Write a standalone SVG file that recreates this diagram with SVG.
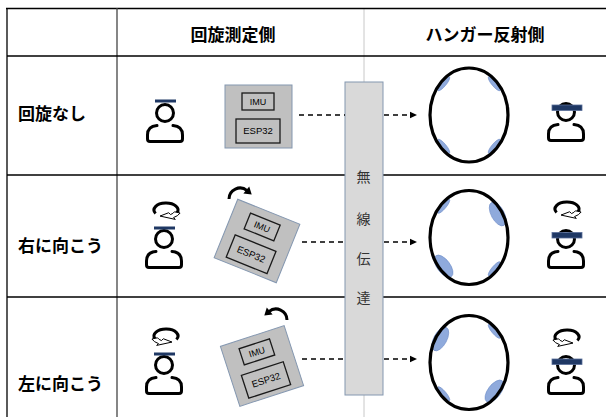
<svg xmlns="http://www.w3.org/2000/svg" width="606" height="417" viewBox="0 0 606 417">
  <style>
    .grid { stroke: #000; stroke-width: 1.3; fill: none; }
    .hdr { font-family: "Noto Sans CJK JP", sans-serif; font-size: 17px; font-weight: bold; fill: #000; }
    .bar-txt { font-family: "Noto Sans CJK JP", sans-serif; font-size: 14px; fill: #333; text-anchor: middle; }
    .dash { stroke: #000; stroke-width: 1.3; stroke-dasharray: 5 4; fill: none; }
    .ol { fill: none; stroke: #000; stroke-width: 3; stroke-linecap: round; stroke-linejoin: round; }
    .band { fill: #1f3864; }
    .band-w { fill: #1f3864; stroke: #5a6f99; stroke-width: 0.8; }
    .module { fill: #c0c0c0; stroke: #8497b0; stroke-width: 1; }
    .chip { fill: none; stroke: #1a1a1a; stroke-width: 1.3; }
    .chip-txt { font-family: "Liberation Sans", sans-serif; font-size: 9px; fill: #000; text-anchor: middle; }
    .ring-fill { fill: #fff; }
    .ring { fill: none; stroke: #000; stroke-width: 3.2; }
    .pad { fill: #8faadc; stroke: #6d8cc8; stroke-width: 0.6; }
    .hollow { fill: #fff; stroke: #000; stroke-width: 1; stroke-linejoin: round; }
    .turn { fill: none; stroke: #000; stroke-width: 3; }
  </style>
  <defs>
    <!-- simple user pictogram: head ring + shoulders, origin at head centre -->
    <g id="person">
      <circle cx="0" cy="0" r="8.5" class="ol"/>
      <path class="ol" d="M-8,12.5 C-14,13 -17.5,16 -17.5,22 L-17.5,26 Q-17.5,28.5 -15,28.5 L15,28.5 Q17.5,28.5 17.5,26 L17.5,22 C17.5,16 14,13 8,12.5"/>
    </g>
    <!-- sensor module: IMU + ESP32 on a grey board, origin at board centre -->
    <g id="module">
      <rect class="module" x="-33.5" y="-31.5" width="67" height="63"/>
      <rect class="chip" x="-16.5" y="-23.5" width="32" height="17"/>
      <rect class="chip" x="-22.5" y="2.5" width="44" height="24"/>
      <text class="chip-txt" x="-0.5" y="-11.8">IMU</text>
      <text class="chip-txt" x="-0.5" y="17.8" style="font-size:9.5px">ESP32</text>
    </g>
    <!-- head-turn symbol: thick loop ending in an open arrow -->
    <g id="spin">
      <path class="turn" d="M-10.4,3.5 A12,7 0 1 1 10.9,2.96"/>
      <polygon class="hollow" points="14.1,3 11.49,5.63 7.5,7.58 9.3,9.4 -6,6.06 2.7,2.73 4.5,4.55 6.89,3.38 8.46,1.8"/>
    </g>
  </defs>

  <!-- table grid -->
  <g id="table">
    <line x1="364" y1="8" x2="364" y2="417" stroke="#c8c8c8" stroke-width="1"/>
    <line class="grid" x1="6" y1="8.5" x2="606" y2="8.5"/>
    <line class="grid" x1="7" y1="8" x2="7" y2="417"/>
    <line x1="117" y1="8" x2="117" y2="417" stroke="#444" stroke-width="1.3"/>
    <line class="grid" x1="7" y1="56" x2="606" y2="56"/>
    <line class="grid" x1="7" y1="175" x2="606" y2="175"/>
    <line class="grid" x1="7" y1="297" x2="606" y2="297"/>
  </g>

  <!-- headings -->
  <g id="headings">
    <text class="hdr" x="233" y="41" text-anchor="middle">回旋測定側</text>
    <text class="hdr" x="485" y="41" text-anchor="middle">ハンガー反射側</text>
    <text class="hdr" x="18" y="119.5">回旋なし</text>
    <text class="hdr" x="18" y="251.5">右に向こう</text>
    <text class="hdr" x="18" y="389.5">左に向こう</text>
  </g>

  <!-- measuring side: wearer -->
  <g id="wearer-none">
    <use href="#person" x="165" y="113"/>
    <rect class="band" x="155" y="99.5" width="21" height="3"/>
  </g>
  <g id="wearer-right">
    <use href="#spin" transform="translate(166,210)"/>
    <use href="#person" x="164" y="239"/>
    <rect class="band" x="154" y="226.5" width="21" height="3"/>
  </g>
  <g id="wearer-left">
    <use href="#spin" transform="translate(166,336) scale(-1,1)"/>
    <use href="#person" x="164" y="365"/>
    <rect class="band" x="154" y="352.5" width="21" height="3"/>
  </g>

  <!-- measuring side: sensor module -->
  <g id="module-none">
    <use href="#module" transform="translate(258.5,116.5)"/>
  </g>
  <g id="module-right">
    <use href="#module" transform="translate(257,241) rotate(22)"/>
    <path class="turn" d="M229,199 A11,11 0 0 1 247.1,190.6"/>
    <polygon points="251.7,194.5 249.2,186.6 243.4,193.4"/>
  </g>
  <g id="module-left">
    <use href="#module" transform="translate(262,366) rotate(-18)"/>
    <path class="turn" d="M287,320 A11,11 0 0 0 268.9,311.6"/>
    <polygon points="264.3,315.5 266.8,307.6 272.6,314.4"/>
  </g>

  <!-- wireless link bar -->
  <g id="wireless">
    <rect x="345" y="82" width="38" height="313" fill="#d9d9d9" stroke="#8497b0" stroke-width="1"/>
    <text class="bar-txt" x="363.5" y="182">無</text>
    <text class="bar-txt" x="363.5" y="224">線</text>
    <text class="bar-txt" x="363.5" y="264">伝</text>
    <text class="bar-txt" x="363.5" y="303">達</text>
  </g>

  <!-- connectors -->
  <g id="connectors">
    <line class="dash" x1="299" y1="115" x2="345" y2="115"/>
    <line class="dash" x1="384" y1="115" x2="411" y2="115"/>
    <polygon points="417,115 410,111.8 410,118.2"/>
    <line class="dash" x1="302" y1="242" x2="345" y2="242"/>
    <line class="dash" x1="384" y1="242" x2="411" y2="242"/>
    <polygon points="417,242 410,238.8 410,245.2"/>
    <line class="dash" x1="302" y1="359" x2="345" y2="359"/>
    <line class="dash" x1="384" y1="359" x2="411" y2="359"/>
    <polygon points="417,359 410,355.8 410,362.2"/>
  </g>

  <!-- reflecting side: hanger rings with pads -->
  <g id="hanger-none" transform="translate(469,115)">
    <ellipse class="ring-fill" rx="39" ry="47"/>
    <ellipse class="pad" cx="25.3" cy="-31.3" rx="9" ry="2.5" transform="rotate(50.3 25.3 -31.3)"/>
    <ellipse class="pad" cx="-25.3" cy="-31.3" rx="9" ry="2.5" transform="rotate(-50.3 -25.3 -31.3)"/>
    <ellipse class="pad" cx="-25.3" cy="31.3" rx="9" ry="2.5" transform="rotate(50.3 -25.3 31.3)"/>
    <ellipse class="pad" cx="25.3" cy="31.3" rx="9" ry="2.5" transform="rotate(-50.3 25.3 31.3)"/>
    <ellipse class="ring" rx="39" ry="47"/>
  </g>
  <g id="hanger-right" transform="translate(469,237.5)">
    <ellipse class="ring-fill" rx="39" ry="47"/>
    <ellipse class="pad" cx="28.7" cy="-23.5" rx="13" ry="6.5" transform="rotate(61.6 28.7 -23.5)"/>
    <ellipse class="pad" cx="-25.4" cy="28.7" rx="13" ry="6.5" transform="rotate(53.2 -25.4 28.7)"/>
    <ellipse class="pad" cx="-25.3" cy="-31.3" rx="9" ry="2.5" transform="rotate(-50.3 -25.3 -31.3)"/>
    <ellipse class="pad" cx="25.3" cy="31.3" rx="9" ry="2.5" transform="rotate(-50.3 25.3 31.3)"/>
    <ellipse class="ring" rx="39" ry="47"/>
  </g>
  <g id="hanger-left" transform="translate(469,362.5)">
    <ellipse class="ring-fill" rx="39" ry="47"/>
    <ellipse class="pad" cx="-28.7" cy="-23.5" rx="13" ry="6.5" transform="rotate(-61.6 -28.7 -23.5)"/>
    <ellipse class="pad" cx="25.4" cy="28.7" rx="13" ry="6.5" transform="rotate(-53.2 25.4 28.7)"/>
    <ellipse class="pad" cx="25.3" cy="-31.3" rx="9" ry="2.5" transform="rotate(50.3 25.3 -31.3)"/>
    <ellipse class="pad" cx="-25.3" cy="31.3" rx="9" ry="2.5" transform="rotate(50.3 -25.3 31.3)"/>
    <ellipse class="ring" rx="39" ry="47"/>
  </g>

  <!-- reflecting side: wearer -->
  <g id="listener-none">
    <use href="#person" x="566" y="112"/>
    <rect class="band-w" x="552" y="105" width="30" height="5.5"/>
  </g>
  <g id="listener-right">
    <use href="#spin" transform="translate(567,209)"/>
    <use href="#person" x="566" y="239"/>
    <rect class="band-w" x="552" y="232.5" width="30" height="5.5"/>
  </g>
  <g id="listener-left">
    <use href="#spin" transform="translate(567,337) scale(-1,1)"/>
    <use href="#person" x="566" y="365"/>
    <rect class="band-w" x="552" y="359" width="30" height="5.5"/>
  </g>
</svg>
